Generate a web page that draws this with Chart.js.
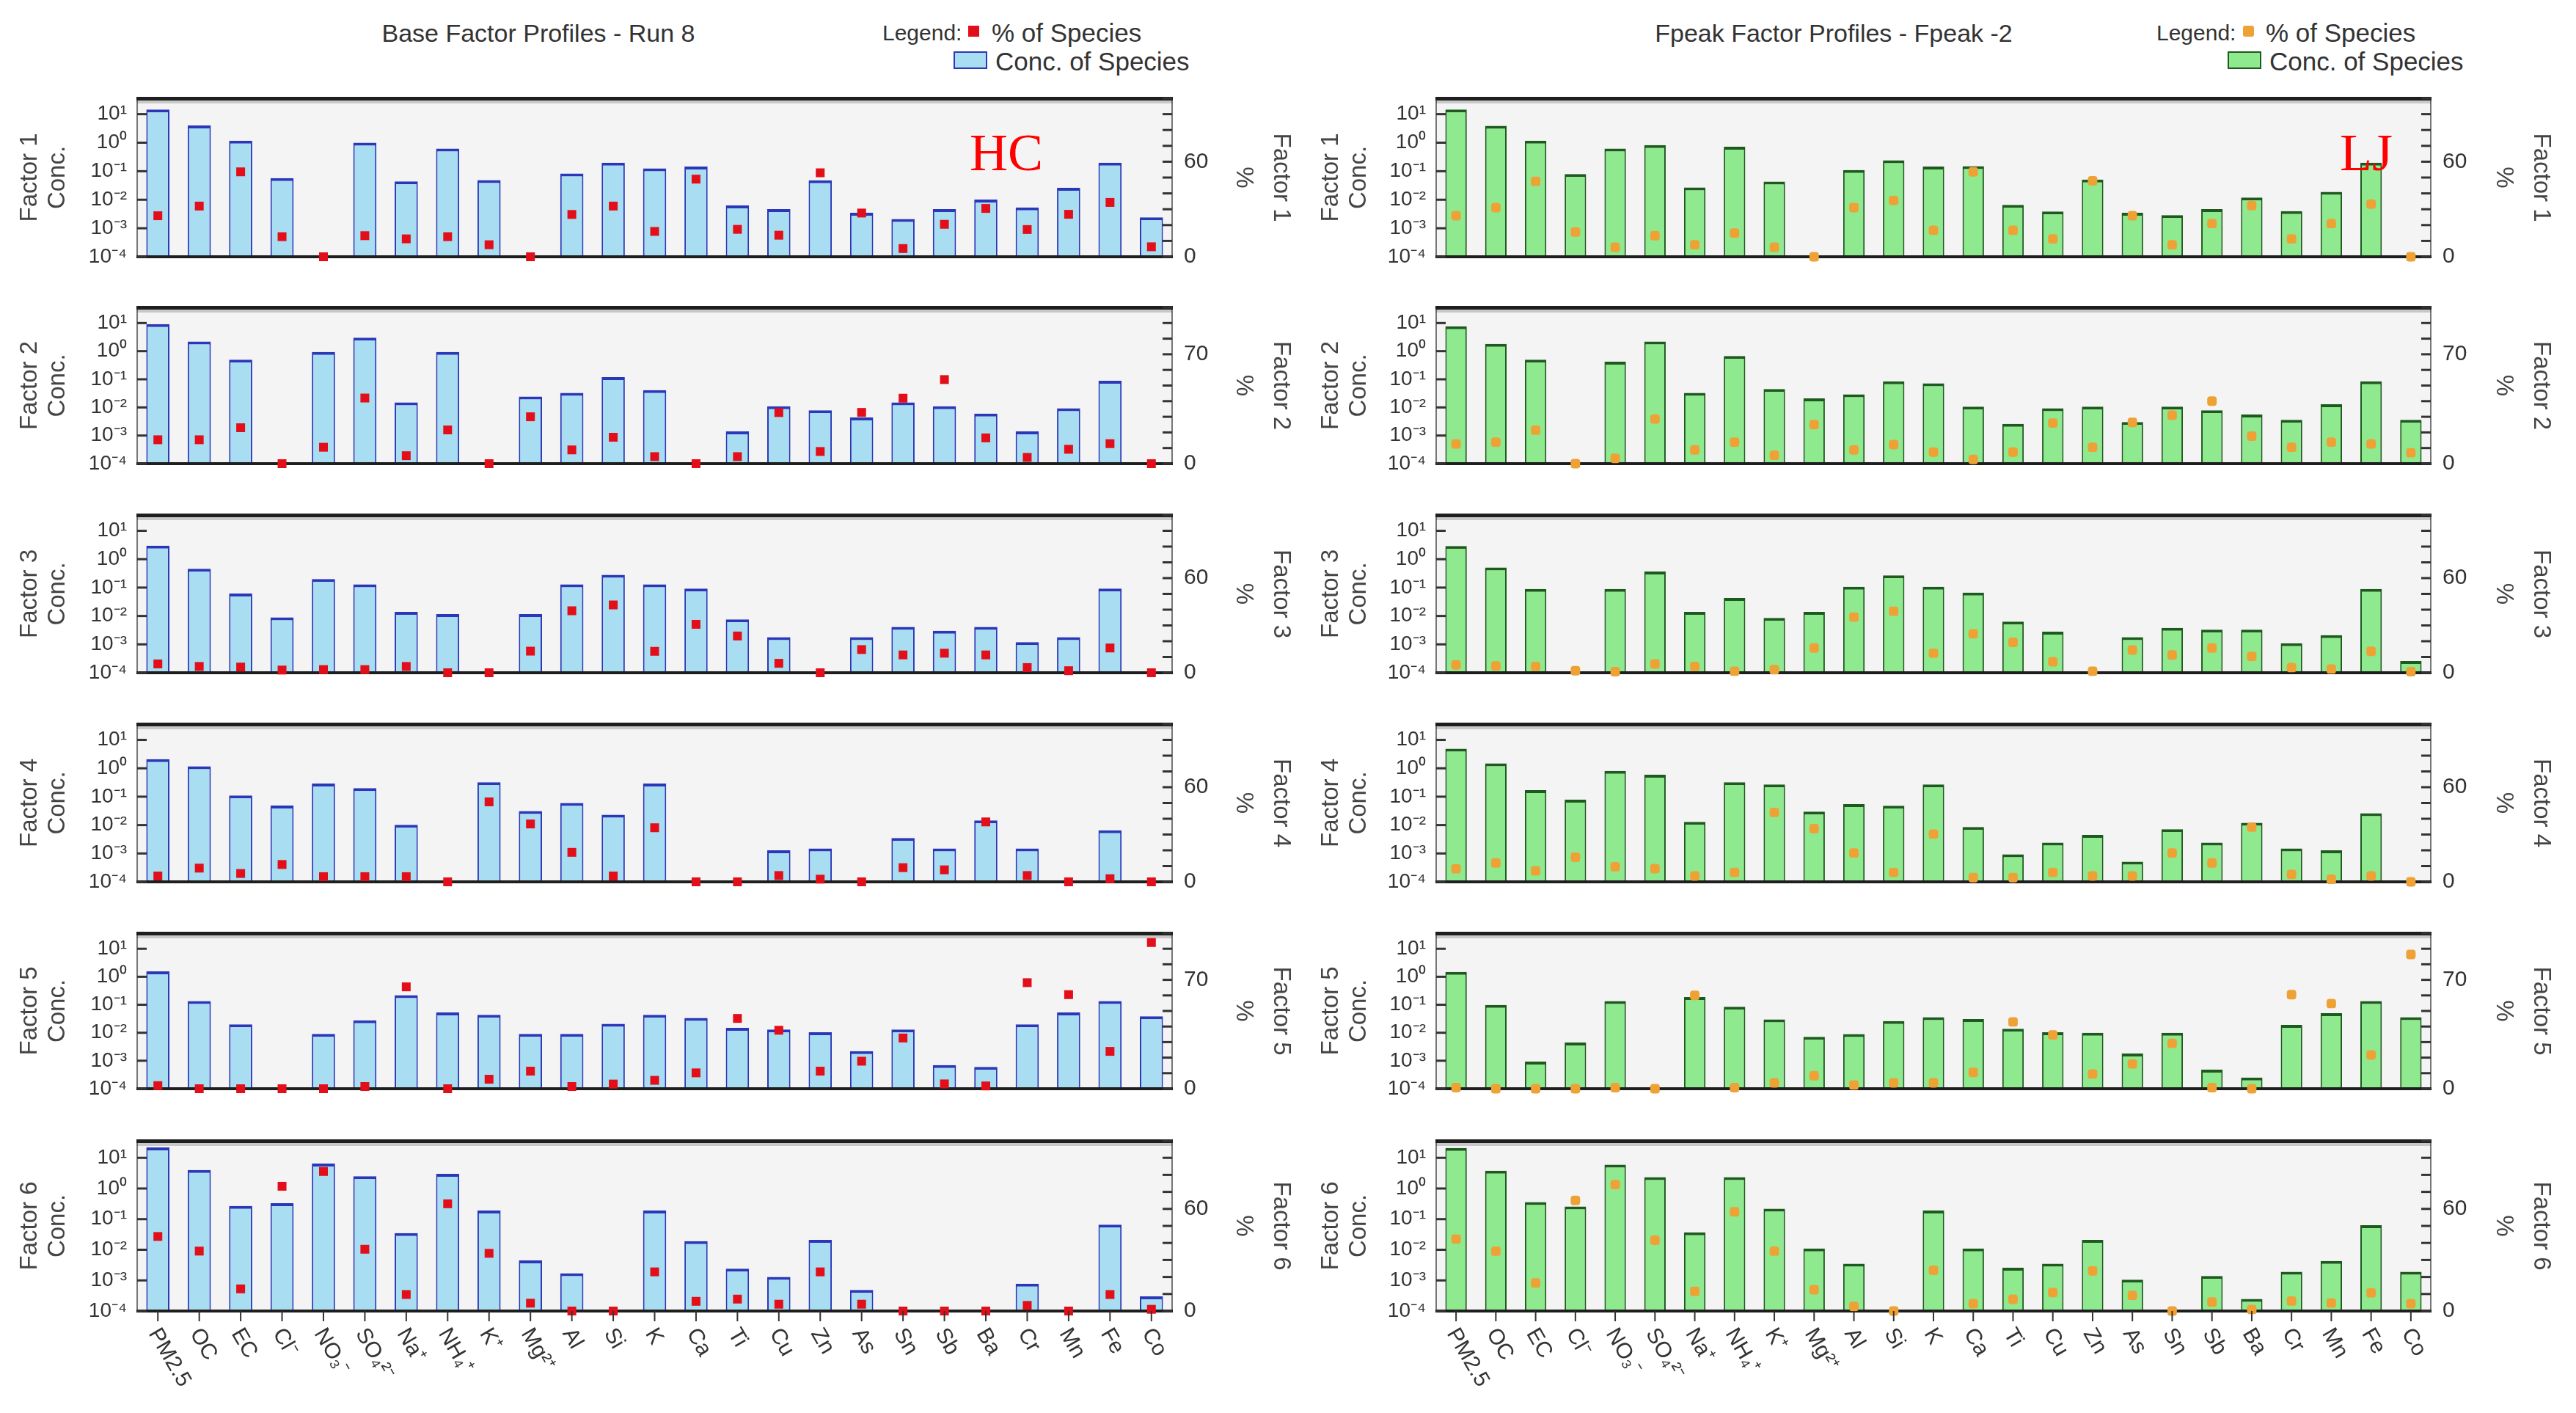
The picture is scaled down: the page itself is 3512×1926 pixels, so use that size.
<!DOCTYPE html>
<html>
<head>
<meta charset="utf-8">
<script src="https://cdn.jsdelivr.net/npm/chart.js@4.4.1/dist/chart.umd.min.js"></script>
<style>
  body { margin: 0; background: #fff; width: 3512px; height: 1926px; position: relative; overflow: hidden;
         font-family: "Liberation Sans", Arial, sans-serif; }
  canvas { position: absolute; }
  .txt { position: absolute; color: #333; font-size: 35px; white-space: nowrap; line-height: 1; }
  .title { font-size: 34px; }
  .lg { font-size: 30px; }
  .mark { position: absolute; z-index: 5; font-family: "Liberation Serif", "DejaVu Serif", serif; font-size: 72px; color: #ff0000; line-height: 1; }
  .sq { position: absolute; }
</style>
</head>
<body>

<div class="txt title" style="left:734px;top:28px;transform:translateX(-50%)">Base Factor Profiles - Run 8</div>
<div class="txt lg" style="left:1203px;top:30px">Legend:</div>
<div class="sq" style="left:1320px;top:35px;width:15px;height:15px;background:#e20f1a"></div>
<div class="txt" style="left:1352px;top:27px">% of Species</div>
<div class="sq" style="left:1300px;top:70px;width:42px;height:20px;background:#a9def2;border:2px solid #2a37b8"></div>
<div class="txt" style="left:1357px;top:66px">Conc. of Species</div>

<div class="txt title" style="left:2500px;top:28px;transform:translateX(-50%)">Fpeak Factor Profiles - Fpeak -2</div>
<div class="txt lg" style="left:2940px;top:30px">Legend:</div>
<div class="sq" style="left:3058px;top:35px;width:15px;height:15px;background:#eea236;border-radius:3px"></div>
<div class="txt" style="left:3089px;top:27px">% of Species</div>
<div class="sq" style="left:3037px;top:70px;width:42px;height:20px;background:#8fe98f;border:2px solid #1d5a1d"></div>
<div class="txt" style="left:3094px;top:66px">Conc. of Species</div>

<div class="mark" style="left:1322px;top:172px">HC</div>
<div class="mark" style="left:3190px;top:172px">LJ</div>

<script>
// species on the x axis
const categories = ['PM2.5', 'OC', 'EC', 'Cl⁻', 'NO₃⁻', 'SO₄²⁻', 'Na⁺', 'NH₄⁺', 'K⁺', 'Mg²⁺', 'Al', 'Si', 'K',
  'Ca', 'Ti', 'Cu', 'Zn', 'As', 'Sn', 'Sb', 'Ba', 'Cr', 'Mn', 'Fe', 'Co'];

const concTicks = [1e-4, 1e-3, 1e-2, 1e-1, 1, 10];
const concTickLabels = ['10⁻⁴', '10⁻³', '10⁻²', '10⁻¹', '10⁰', '10¹'];
const pctTicks = [0, 10, 20, 30, 40, 50, 60, 70, 80, 90, 100];
const pctTickShown = [60, 70, 60, 60, 70, 60];

// Base run 8: concentration of species
const baseConc1 = [14.5, 4.0, 1.17, 0.057, null, 1.0, 0.044, 0.62, 0.049, null, 0.083, 0.2, 0.126, 0.145, 0.0063, 0.0047, 0.048, 0.0035, 0.0021, 0.0047, 0.0102, 0.0054, 0.026, 0.2, 0.0024];
const baseConc2 = [9.2, 2.2, 0.5, null, 0.93, 3.0, 0.015, 0.93, null, 0.0245, 0.033, 0.12, 0.041, null, 0.0014, 0.011, 0.0079, 0.0044, 0.015, 0.011, 0.006, 0.0014, 0.0093, 0.089, null];
const baseConc3 = [3.0, 0.46, 0.062, 0.0089, 0.2, 0.13, 0.014, 0.0117, null, 0.0117, 0.13, 0.28, 0.13, 0.093, 0.0076, 0.0018, null, 0.0018, 0.0041, 0.003, 0.0041, 0.0012, 0.0018, 0.093, null];
const baseConc4 = [2.1, 1.17, 0.11, 0.049, 0.29, 0.2, 0.0102, null, 0.32, 0.031, 0.06, 0.023, 0.29, null, null, 0.0013, 0.0015, null, 0.0035, 0.0015, 0.0145, 0.0015, null, 0.0065, null];
const baseConc5 = [1.55, 0.135, 0.02, null, 0.0091, 0.028, 0.22, 0.053, 0.044, 0.0091, 0.0091, 0.021, 0.044, 0.034, 0.015, 0.013, 0.0105, 0.0022, 0.013, 0.0007, 0.0006, 0.02, 0.053, 0.135, 0.039];
const baseConc6 = [22, 4.0, 0.27, 0.33, 6.5, 2.5, 0.035, 3.0, 0.19, 0.0045, 0.0017, null, 0.19, 0.019, 0.0024, 0.0013, 0.021, 0.00049, null, null, null, 0.00078, null, 0.066, 0.0003];

// Base run 8: % of species
const basePct1 = [25.9, 32, 53.6, 12.7, 0, 13.3, 11.3, 12.7, 7.6, 0, 26.7, 32, 16, 49, 17.3, 13.6, 53, 27.6, 5.2, 20.5, 30.5, 17.2, 26.8, 34.3, 6.3];
const basePct2 = [15.3, 15.3, 23, 0, 10.5, 42, 5.1, 21.6, 0, 30, 8.8, 16.9, 4.5, 0, 4.5, 32.7, 7.8, 32.8, 41.9, 53.8, 16.5, 4, 9.2, 12.8, 0];
const basePct3 = [5.6, 4, 3.6, 1.7, 2, 2, 4, 0, 0, 13.7, 39.3, 43, 13.6, 30.7, 23.3, 6, 0, 14.7, 11.3, 12.4, 11.3, 3.3, 1.3, 15.7, 0];
const basePct4 = [3.7, 8.7, 5.3, 11, 3.3, 3.3, 3.3, 0, 50.7, 36.7, 18.7, 3.7, 34.3, 0, 0, 4, 1.7, 0, 9, 7.6, 38, 4, 0, 2, 0];
const basePct5 = [2, 0, 0, 0, 0, 1.4, 65.5, 0, 6.1, 11.3, 1.4, 3, 5.4, 10.2, 45.2, 37.6, 11.3, 17.7, 32.6, 3.1, 1.8, 68.2, 60.5, 24, 94];
const basePct6 = [43.8, 35.2, 13, 73.3, 82, 36.3, 9.7, 63, 33.9, 4.6, 0, 0, 23, 5.7, 7, 4, 23, 4, 0, 0, 0, 3.3, 0, 9.7, 1];

// Fpeak -2: concentration of species
const fpeakConc1 = [14.5, 3.9, 1.17, 0.079, 0.62, 0.83, 0.027, 0.72, 0.043, null, 0.11, 0.24, 0.145, 0.15, 0.0066, 0.0039, 0.051, 0.0035, 0.0029, 0.0047, 0.012, 0.004, 0.019, 0.2, null];
const fpeakConc2 = [7.7, 1.8, 0.5, null, 0.42, 2.2, 0.033, 0.67, 0.045, 0.021, 0.029, 0.085, 0.072, 0.0107, 0.0026, 0.0093, 0.0107, 0.003, 0.0107, 0.0079, 0.0056, 0.0036, 0.013, 0.085, 0.0036];
const fpeakConc3 = [2.9, 0.51, 0.089, null, 0.089, 0.37, 0.014, 0.043, 0.0085, 0.014, 0.107, 0.27, 0.107, 0.067, 0.0063, 0.0028, null, 0.0018, 0.0038, 0.0033, 0.0033, 0.0011, 0.0021, 0.089, 0.00026];
const fpeakConc4 = [4.9, 1.5, 0.17, 0.079, 0.81, 0.59, 0.013, 0.32, 0.27, 0.03, 0.055, 0.048, 0.27, 0.0085, 0.00093, 0.0024, 0.0045, 0.00051, 0.0072, 0.0024, 0.012, 0.0015, 0.0013, 0.026, null];
const fpeakConc5 = [1.5, 0.098, 0.00093, 0.0045, 0.135, null, 0.19, 0.085, 0.03, 0.0072, 0.0089, 0.026, 0.036, 0.031, 0.0138, 0.0105, 0.01, 0.0018, 0.01, 0.00048, 0.00025, 0.019, 0.05, 0.135, 0.036];
const fpeakConc6 = [21, 3.8, 0.36, 0.26, 6.0, 2.35, 0.037, 2.35, 0.22, 0.011, 0.0035, null, 0.19, 0.011, 0.0026, 0.0035, 0.021, 0.00105, null, 0.0014, 0.00025, 0.0019, 0.0043, 0.063, 0.0019];

// Fpeak -2: % of species
const fpeakPct1 = [25.9, 31, 47.6, 15.6, 6, 13.3, 7.6, 15, 6, 0, 31, 35.6, 16.7, 53.6, 16.7, 11.3, 48, 25.9, 7.6, 21, 32.3, 11.3, 21, 33.3, 0];
const fpeakPct2 = [12.6, 13.8, 21.4, 0, 3.4, 28.6, 8.8, 13.8, 5.4, 25, 8.8, 12.2, 7.4, 2.7, 7.4, 26, 10.5, 26.4, 31, 40, 17.6, 10.5, 13.8, 12.6, 7];
const fpeakPct3 = [5, 4.3, 4, 1.3, 0.7, 5.6, 4, 1, 2, 15.7, 35.3, 39, 12.4, 24.7, 19.3, 7, 1, 14.4, 11.3, 15.7, 10.4, 3.3, 2.4, 13.6, 0.7];
const fpeakPct4 = [8.3, 12, 7, 15.6, 9.6, 8.4, 3.7, 6, 44, 33.7, 18.3, 6, 30.3, 2.7, 2.7, 6, 3.7, 3.7, 18.3, 12, 34.7, 4.7, 1.6, 3.7, 0];
const fpeakPct5 = [0.7, 0, 0, 0, 0.7, 0, 60, 0.7, 3.8, 8.4, 2.4, 3.8, 3.8, 10.5, 43, 34.6, 9.5, 16, 29.2, 0.7, 0, 60.5, 54.8, 21.7, 86.3];
const fpeakPct6 = [42.3, 35.2, 16.5, 65, 74.3, 41.6, 11.6, 58.3, 35.2, 12.5, 2.7, 0, 23.9, 4.3, 6.9, 10.9, 23.6, 9.2, 0, 5.3, 0.9, 5.9, 4.7, 10.7, 4.3];

const baseConc = [baseConc1, baseConc2, baseConc3, baseConc4, baseConc5, baseConc6];
const basePct = [basePct1, basePct2, basePct3, basePct4, basePct5, basePct6];
const fpeakConc = [fpeakConc1, fpeakConc2, fpeakConc3, fpeakConc4, fpeakConc5, fpeakConc6];
const fpeakPct = [fpeakPct1, fpeakPct2, fpeakPct3, fpeakPct4, fpeakPct5, fpeakPct6];

Chart.defaults.font.family = '"Liberation Sans", Arial, sans-serif';

// panel geometry (page pixels)
const plotTops = [116, 401, 684, 969, 1254, 1537];
const plotBottoms = [366, 648, 933, 1218, 1500, 1787];
const padTop = 16;

// plot frame, inner ticks and rotated species names
const frame = {
  id: 'frame',
  beforeDatasetsDraw(chart) {
    const a = chart.chartArea, ctx = chart.ctx;
    ctx.save();
    ctx.fillStyle = '#f4f4f4';
    ctx.fillRect(a.left, a.top, a.right - a.left, a.bottom - a.top);
    ctx.restore();
  },
  afterDatasetDraw(chart, args, opts) {
    if (args.index !== 0) return;
    const a = chart.chartArea, ctx = chart.ctx;
    const w = a.right - a.left;
    ctx.save();
    ctx.fillStyle = '#777';
    ctx.fillRect(a.left - 1, a.top, 2, a.bottom - a.top);
    ctx.fillRect(a.right - 1, a.top, 2, a.bottom - a.top);
    ctx.fillStyle = 'rgba(0,0,0,0.18)';
    ctx.fillRect(a.left, a.top + 2, w, 5);
    ctx.fillStyle = '#1e1e1e';
    ctx.fillRect(a.left - 1, a.top - 2, w + 2, 5);
    ctx.fillRect(a.left - 1, a.bottom - 2, w + 2, 4);
    ctx.fillStyle = '#333';
    concTicks.forEach(v => {
      const y = chart.scales.y.getPixelForValue(v);
      ctx.fillRect(a.left, y - 1.5, 13, 3);
    });
    pctTicks.forEach(v => {
      const y = chart.scales.y1.getPixelForValue(v);
      ctx.fillRect(a.right - 13, y - 1.5, 13, 3);
    });
    ctx.restore();
  },
  afterDraw(chart, args, opts) {
    if (!opts.last) return;
    const a = chart.chartArea, ctx = chart.ctx;
    ctx.save();
    ctx.fillStyle = '#333';
    ctx.font = '30px "Liberation Sans", Arial, sans-serif';
    ctx.textAlign = 'left';
    ctx.textBaseline = 'middle';
    categories.forEach((c, i) => {
      const x = chart.scales.x.getPixelForValue(i);
      ctx.fillRect(x - 1, a.bottom, 2, 14);
      ctx.save();
      ctx.translate(x - 6, a.bottom + 26);
      ctx.rotate(Math.PI / 3);
      ctx.fillText(c, 0, 0);
      ctx.restore();
    });
    ctx.restore();
  }
};

function makePanel(col, f) {
  const isLeft = col === 0;
  const last = f === 5;
  const top = plotTops[f], bottom = plotBottoms[f];
  const xH = last ? 1926 - bottom : 18;
  const cx = isLeft ? 0 : 1790;
  const cw = isLeft ? 1790 : 1722;
  const yW = isLeft ? 187 : 168;
  const y1W = isLeft ? 192 : 198;
  const ch = padTop + (bottom - top) + xH;

  const canvas = document.createElement('canvas');
  canvas.width = cw;
  canvas.height = ch;
  canvas.style.left = cx + 'px';
  canvas.style.top = (top - padTop) + 'px';
  document.body.appendChild(canvas);

  const conc = isLeft ? baseConc[f] : fpeakConc[f];
  const pct = isLeft ? basePct[f] : fpeakPct[f];

  new Chart(canvas, {
    type: 'bar',
    data: {
      labels: categories,
      datasets: [{
        type: 'bar',
        label: 'Conc. of Species',
        data: conc,
        yAxisID: 'y',
        order: 1,
        backgroundColor: isLeft ? '#a9def2' : '#8fe98f',
        borderColor: isLeft ? '#2a37b8' : '#1d5a1d',
        borderWidth: { top: 4, left: 2, right: 2, bottom: 0 },
        borderSkipped: false,
        barPercentage: isLeft ? 0.56 : 0.54,
        categoryPercentage: 1
      }, {
        type: 'line',
        label: '% of Species',
        data: pct,
        yAxisID: 'y1',
        order: 0,
        showLine: false,
        clip: false,
        pointStyle: isLeft ? 'rect' : 'rectRounded',
        pointRadius: isLeft ? 8.5 : 7.5,
        pointBackgroundColor: isLeft ? '#e20f1a' : '#eea236',
        pointBorderWidth: 0
      }]
    },
    options: {
      responsive: false,
      animation: false,
      devicePixelRatio: 1,
      layout: { padding: { top: padTop } },
      plugins: {
        legend: { display: false },
        tooltip: { enabled: false },
        frame: { last: last }
      },
      scales: {
        x: {
          grid: { display: false },
          border: { display: false },
          ticks: { display: false },
          afterFit(s) { s.height = xH; }
        },
        y: {
          type: 'logarithmic',
          position: 'left',
          min: 1e-4,
          max: 36,
          grid: { display: false, drawTicks: false },
          border: { display: false },
          afterBuildTicks(s) { s.ticks = concTicks.map(v => ({ value: v })); },
          ticks: {
            autoSkip: false,
            padding: 14,
            color: '#333',
            font: { size: 28 },
            callback: (v) => concTickLabels[concTicks.indexOf(v)]
          },
          title: {
            display: true,
            text: ['Factor ' + (f + 1), 'Conc.'],
            color: '#444',
            font: { size: 33, lineHeight: 1.15 },
            padding: { top: isLeft ? 22 : 6, bottom: 0 }
          },
          afterFit(s) { s.width = yW; }
        },
        y1: {
          position: 'right',
          min: 0,
          max: 100,
          grid: { display: false, drawTicks: false },
          border: { display: false },
          afterBuildTicks(s) { s.ticks = pctTicks.map(v => ({ value: v })); },
          ticks: {
            autoSkip: false,
            padding: 16,
            color: '#333',
            font: { size: 30 },
            callback: (v) => (v === 0 || v === pctTickShown[f]) ? String(v) : ''
          },
          title: {
            display: true,
            text: ['Factor ' + (f + 1), '%'],
            color: '#444',
            font: { size: 33, lineHeight: 1.55 },
            padding: { top: isLeft ? 18 : 22, bottom: 0 }
          },
          afterFit(s) { s.width = y1W; }
        }
      }
    },
    plugins: [frame]
  });
}

for (let f = 0; f < 6; f++) {
  makePanel(0, f);
  makePanel(1, f);
}
</script>
</body>
</html>
